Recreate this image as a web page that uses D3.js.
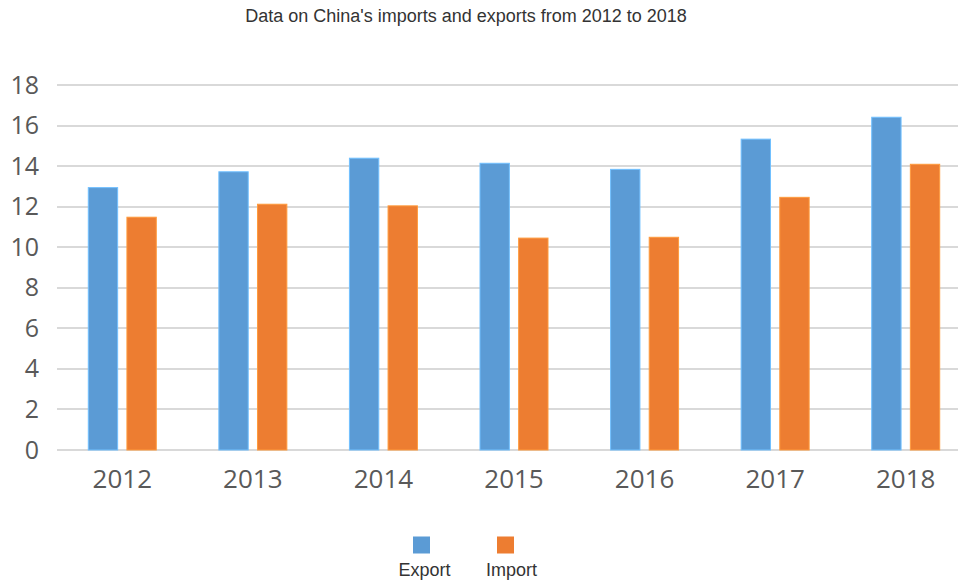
<!DOCTYPE html>
<html>
<head>
<meta charset="utf-8">
<script src="https://cdn.jsdelivr.net/npm/d3@7"></script>
<style>
  body { margin: 0; background: #fff; }
  svg { display: block; }
</style>
</head>
<body>
<svg id="chart" width="958" height="583"></svg>
<script>
"use strict";

// data
var years = ["2012", "2013", "2014", "2015", "2016", "2017", "2018"];
var exportValues = [12.94, 13.72, 14.39, 14.14, 13.84, 15.33, 16.41];
var importValues = [11.48, 12.12, 12.04, 10.45, 10.49, 12.46, 14.09];
var seriesNames = ["Export", "Import"];
var yTicks = [0, 2, 4, 6, 8, 10, 12, 14, 16, 18];

var colors = ["#5B9BD5", "#ED7D31"];

var svg = d3.select("#chart");

var plot = { left: 57, right: 971, top: 85, bottom: 450 };

var x = d3.scaleBand()
  .domain(years)
  .range([plot.left, plot.right])
  .paddingInner(0)
  .paddingOuter(0);

var x1 = d3.scaleBand()
  .domain(seriesNames)
  .range([0, 68])
  .paddingInner(0.24);

var y = d3.scaleLinear()
  .domain([0, 18])
  .range([plot.bottom, plot.top]);

// title
svg.append("text")
  .attr("x", 466)
  .attr("y", 22)
  .attr("text-anchor", "middle")
  .attr("font-family", "Liberation Sans, Arial, sans-serif")
  .attr("font-size", 18)
  .attr("fill", "#333")
  .text("Data on China's imports and exports from 2012 to 2018");

// grid
var grid_g = svg.append("g").attr("class", "grid");
grid_g.selectAll("line")
  .data(yTicks)
  .enter()
  .append("line")
  .attr("x1", plot.left)
  .attr("x2", 958)
  .attr("y1", function(d){ return Math.round(y(d)); })
  .attr("y2", function(d){ return Math.round(y(d)); })
  .attr("stroke", "#d9d9d9")
  .attr("stroke-width", 2);

// y axis labels
var yAxis = d3.axisLeft(y).tickValues(yTicks).tickSize(0).tickPadding(0);
var yAxis_g = svg.append("g")
  .attr("transform", "translate(39,-1)")
  .call(yAxis);
yAxis_g.select(".domain").remove();
yAxis_g.selectAll("text")
  .attr("font-family", "Open Sans, sans-serif")
  .attr("font-size", 25)
  .attr("fill", "#595959")
  .attr("dy", "0.36em");

// x axis labels
var xAxis = d3.axisBottom(x).tickSize(0).tickPadding(0);
var xAxis_g = svg.append("g")
  .attr("transform", "translate(0,466)")
  .call(xAxis);
xAxis_g.select(".domain").remove();
xAxis_g.selectAll("text")
  .attr("font-family", "Open Sans, sans-serif")
  .attr("font-size", 26)
  .attr("fill", "#595959")
  .attr("dy", "0.85em");

// bars
var rows = years.map(function(yr, i){
  return { year: yr, values: [
    { name: "Export", value: exportValues[i], color: colors[0] },
    { name: "Import", value: importValues[i], color: colors[1] }
  ]};
});

var groups = svg.append("g").attr("class", "bars")
  .selectAll(".bar_group")
  .data(rows)
  .enter()
  .append("g")
  .attr("class", "bar_group")
  .attr("transform", function(d){ return "translate(" + (x(d.year) + x.bandwidth() / 2 - 34) + ",0)"; });

groups.selectAll("rect")
  .data(function(d){ return d.values; })
  .enter()
  .append("rect")
  .attr("x", function(d){ return x1(d.name); })
  .attr("width", x1.bandwidth())
  .attr("y", function(d){ return y(d.value); })
  .attr("height", function(d){ return plot.bottom - y(d.value); })
  .attr("fill", function(d){ return d.color; })
  .attr("stroke", function(d){ return d3.color(d.color).brighter(0.6); })
  .attr("stroke-width", 1);

// legend
var legendX = [421.5, 505.5];
var legend_g = svg.append("g").attr("class", "legend");
var items = legend_g.selectAll("g")
  .data(seriesNames)
  .enter()
  .append("g")
  .attr("transform", function(d, i){ return "translate(" + legendX[i] + ",0)"; });

items.append("rect")
  .attr("x", -8.5)
  .attr("y", 536.5)
  .attr("width", 17)
  .attr("height", 17)
  .attr("fill", function(d, i){ return colors[i]; });

items.append("text")
  .attr("x", function(d, i){ return i === 0 ? 3 : 6; })
  .attr("y", 576)
  .attr("text-anchor", "middle")
  .attr("font-family", "Liberation Sans, Arial, sans-serif")
  .attr("font-size", 18)
  .attr("fill", "#333")
  .text(function(d){ return d; });
</script>
</body>
</html>
